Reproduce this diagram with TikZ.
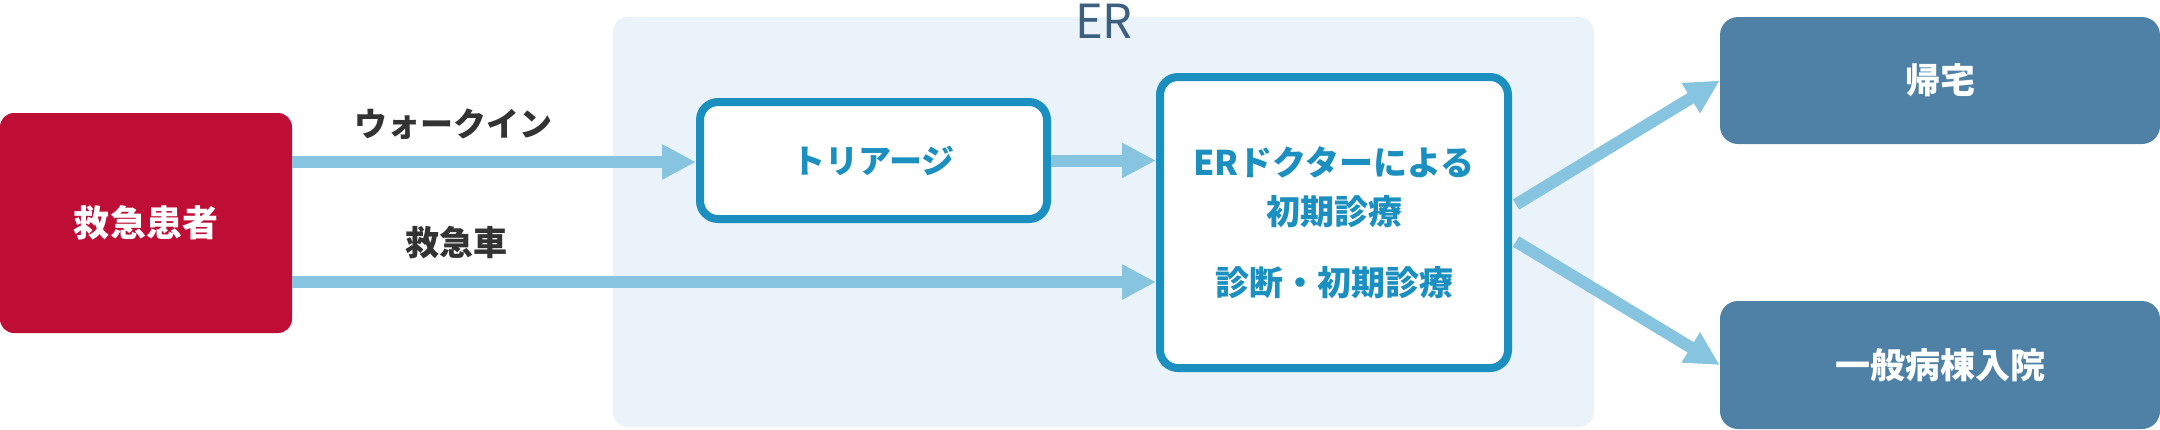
\documentclass[tikz,border=0pt]{standalone}
\usepackage{fontspec}
\setmainfont{Noto Sans CJK JP}
\usetikzlibrary{arrows.meta,calc}
\definecolor{erred}{HTML}{BE0E36}
\definecolor{erbg}{HTML}{EAF3F9}
\definecolor{erteal}{HTML}{1A8FC0}
\definecolor{erarrow}{HTML}{86C4DF}
\definecolor{erdark}{HTML}{4F80A6}
\definecolor{erlabel}{HTML}{3D5F80}
\definecolor{ertext}{HTML}{333333}
\begin{document}
\begin{tikzpicture}[x=1bp,y=-1bp,
  flow/.style={line width=12bp, draw=erarrow, -{Triangle[length=34bp,width=33bp,fill=erarrow]}},
  bgbox/.style={fill=erbg, rounded corners=15bp, inner sep=0pt},
  srcbox/.style={fill=erred, rounded corners=14bp, inner sep=0pt, text=white,
    font=\fontsize{36bp}{40bp}\selectfont\bfseries},
  stepbox/.style={fill=white, draw=erteal, line width=8bp, rounded corners=18bp, inner sep=0pt,
    text=erteal, font=\fontsize{33bp}{49bp}\selectfont\bfseries, align=center},
  outbox/.style={fill=erdark, rounded corners=18bp, inner sep=0pt, text=white,
    font=\fontsize{35bp}{40bp}\selectfont\bfseries},
  lbl/.style={text=ertext, inner sep=0pt, font=\fontsize{33bp}{40bp}\selectfont\bfseries}
]
\useasboundingbox (0,0) rectangle (2160,429);
% ER background
\node[bgbox, minimum width=981bp, minimum height=410bp] (er) at (1103.5,222) {};
\node[text=erlabel, inner sep=0pt, font=\fontsize{47bp}{50bp}\selectfont] (ertitle) at (1104,21) {ER};
% boxes
\node[srcbox, minimum width=292bp, minimum height=220bp] (pat) at (146,223) {救急患者};
\node[stepbox, minimum width=347bp, minimum height=117bp] (tri) at (873.5,160.5) {トリアージ};
\node[stepbox, minimum width=348bp, minimum height=291bp, font=\fontsize{34bp}{49bp}\selectfont\bfseries] (doc) at (1334,222.5)
  {ERドクターによる\\初期診療\\[22bp]診断・初期診療};
\node[outbox, minimum width=440bp, minimum height=127bp] (home) at (1940,80.5) {帰宅};
\node[outbox, minimum width=440bp, minimum height=128bp] (ward) at (1940,365) {一般病棟入院};
% labels
\node[lbl] (walk) at (453,124) {ウォークイン};
\node[lbl, font=\fontsize{34bp}{40bp}\selectfont\bfseries] (amb) at (456,243) {救急車};
% coordinates for arrow ends
\coordinate (pw) at ($(pat.east)+(0,-61)$);
\coordinate (pa) at ($(pat.east)+(0,59)$);
\coordinate (du) at ($(doc.east)+(4,-18)$);
\coordinate (dl) at ($(doc.east)+(4,19)$);
% arrows
\draw[flow] (pw) -- (pw -| tri.west);
\draw[flow] (pa) -- (pa -| doc.west);
\draw[flow] (tri.east) -- (tri.east -| doc.west);
\draw[flow] (du) -- (home.west);
\draw[flow] (dl) -- (ward.west);
\end{tikzpicture}
\end{document}
